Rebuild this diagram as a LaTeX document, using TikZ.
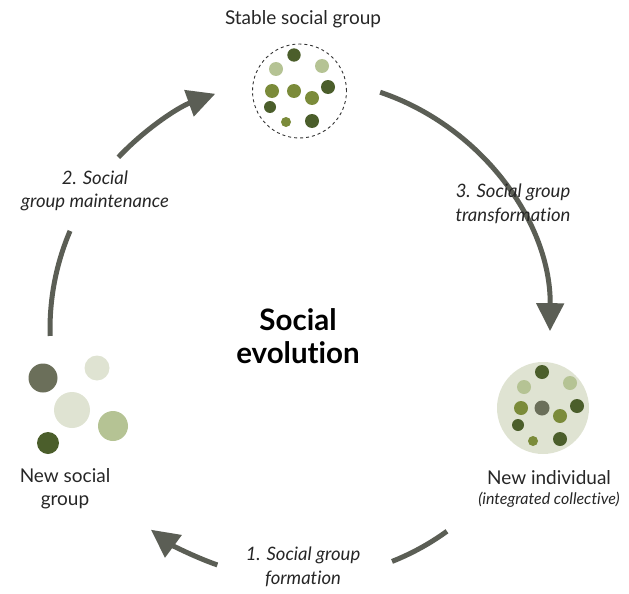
\documentclass[tikz,border=0pt]{standalone}
\usepackage{fontspec}
\setmainfont{Lato}[Ligatures=NoCommon]
\usetikzlibrary{arrows.meta,calc}
\definecolor{arrowc}{HTML}{5B5E55}
\definecolor{dkg}{HTML}{4B5E2B}
\definecolor{olv}{HTML}{7B8B3A}
\definecolor{lgt}{HTML}{B5C394}
\definecolor{gry}{HTML}{6B6F5A}
\definecolor{pale}{HTML}{DFE3D2}
\begin{document}
\begin{tikzpicture}[x=1pt,y=-1pt,
  cyc/.style={draw=arrowc,line width=5pt},
  tipped/.style={-{Triangle[length=28pt,width=27pt]}},
  lab/.style={font=\fontsize{18.5}{23.5}\selectfont\itshape,align=center,text=black!85},
  title/.style={font=\fontsize{19}{23}\selectfont,align=center,text=black!85},
  big/.style={font=\fontsize{29.5}{33}\selectfont\bfseries,align=center}]
\useasboundingbox (0,0) rectangle (629,594);
\coordinate (C) at (300,329);
% cycle arcs
\coordinate (l1) at ($(C)+(-181.6:250)$);
\coordinate (t1) at ($(C)+(-136.6:250)$);
\coordinate (r1) at ($(C)+(-71.3:250)$);
\coordinate (b1) at ($(C)+(54:250)$);
\coordinate (b2) at ($(C)+(109.3:250)$);
\draw[cyc] (l1) arc[start angle=-181.6,end angle=-156.9,radius=250];
\draw[cyc,tipped] (t1) arc[start angle=-136.6,end angle=-109.8,radius=250];
\draw[cyc,tipped] (r1) arc[start angle=-71.3,end angle=0.5,radius=250];
\draw[cyc] (b1) arc[start angle=54,end angle=68.4,radius=250];
\draw[cyc,tipped] (b2) arc[start angle=109.3,end angle=126.6,radius=250];
% stable social group
\node[circle,draw=black!80,dashed,line width=0.9pt,minimum size=94pt,inner sep=0pt] (stable) at (299.5,91) {};
\fill[dkg] (294,55) circle[radius=6.7];
\fill[lgt] (276,69) circle[radius=7];
\fill[lgt] (322,66) circle[radius=7];
\fill[olv] (272,91) circle[radius=7];
\fill[olv] (294,91) circle[radius=7];
\fill[dkg] (328,87) circle[radius=7];
\fill[olv] (312,98) circle[radius=7];
\fill[dkg] (270,107) circle[radius=6];
\fill[olv] (286,122) circle[radius=5];
\fill[dkg] (312,121) circle[radius=7];
% new individual
\node[circle,fill=pale,minimum size=92pt,inner sep=0pt] (indiv) at (543,408) {};
\fill[dkg] (542,372) circle[radius=7];
\fill[lgt] (524,387) circle[radius=7];
\fill[lgt] (570,383) circle[radius=7];
\fill[olv] (521,408) circle[radius=7];
\fill[gry] (542,408) circle[radius=7.5];
\fill[dkg] (577,406) circle[radius=7];
\fill[olv] (560,416) circle[radius=7];
\fill[dkg] (518,425) circle[radius=6];
\fill[olv] (533,441) circle[radius=5];
\fill[dkg] (560,439) circle[radius=7];
% new social group
\fill[gry] (43,378) circle[radius=14.5];
\fill[pale] (97,368) circle[radius=12.5];
\fill[pale] (72,410) circle[radius=18];
\fill[lgt] (113,426) circle[radius=15];
\fill[dkg] (48,443) circle[radius=11];
% texts
\node[title] (tstable) at (303,19) {Stable social group};
\node[big] (tevo) at (298,336) {Social\\evolution};
\node[lab] (t2) at (95,191) {2. Social\\group maintenance};
\node[lab] (t3) at (513,204) {3. Social group\\transformation};
\node[lab] (t1) at (303,567) {1. Social group\\formation};
\node[title] (tnsg) at (65,489) {New social\\group};
\node[title] (tni) at (549,478) {New individual};
\node[lab,font=\fontsize{16}{18}\selectfont\itshape] (tic) at (549,500) {(integrated collective)};
\end{tikzpicture}
\end{document}
